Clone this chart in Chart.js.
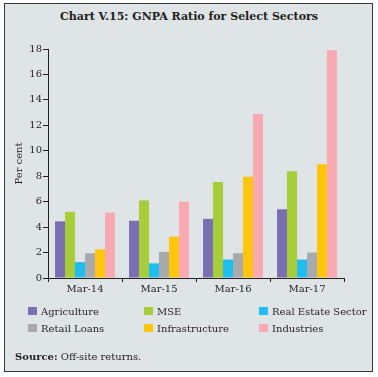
<!DOCTYPE html>
<html><head><meta charset="utf-8">
<script src="https://cdn.jsdelivr.net/npm/chart.js@4.4.1/dist/chart.umd.min.js"></script>
<style>
html,body{margin:0;padding:0;background:#fff;}
#frame{position:absolute;left:4px;top:3px;width:367px;height:367px;border:1px solid #3a3a3a;background:#dfe4e7;}
#wrap{position:absolute;left:0;top:0;width:378px;height:377px;}
.t{position:absolute;font-family:"DejaVu Serif",serif;color:#231f20;white-space:nowrap;}
#title{left:0;width:378px;top:10px;text-align:center;font-weight:bold;font-size:11px;}
.lg{position:absolute;font-family:"DejaVu Serif",serif;font-size:10px;color:#231f20;white-space:nowrap;line-height:12px;}
.lg span{display:inline-block;width:9px;height:8px;margin-right:4px;vertical-align:0px;}
#src{left:15px;top:351px;font-size:10px;}
</style></head>
<body>
<div id="frame"></div>
<div class="t" id="title">Chart V.15: GNPA Ratio for Select Sectors</div>
<div id="wrap"><canvas id="c" width="378" height="377"></canvas></div>
<div id="legend"></div>
<div class="t" id="src"><b>Source:</b> Off-site returns.</div>
<script>
const categories = ["Mar-14","Mar-15","Mar-16","Mar-17"];
const seriesNames = ["Agriculture","MSE","Real Estate Sector","Retail Loans","Infrastructure","Industries"];
const agriculture = [4.45, 4.5, 4.65, 5.4];
const mse = [5.2, 6.1, 7.55, 8.4];
const realEstate = [1.25, 1.15, 1.45, 1.45];
const retailLoans = [1.95, 2.05, 1.95, 2.0];
const infrastructure = [2.25, 3.25, 7.95, 8.95];
const industries = [5.15, 6.0, 12.9, 17.9];
const yTicks = [0,2,4,6,8,10,12,14,16,18];
const colors = ["#7a6fb2","#a7cd39","#1fbef0","#a8aaad","#ffc50d","#f8a9b1"];

const values = [agriculture, mse, realEstate, retailLoans, infrastructure, industries];
const datasets = seriesNames.map((n,i)=>({label:n,data:values[i],backgroundColor:colors[i],borderWidth:0,categoryPercentage:0.81,barPercentage:1.0}));

const tickFont = {family:"DejaVu Serif", size:10};
new Chart(document.getElementById('c'), {
  type:'bar',
  data:{labels:categories, datasets},
  options:{
    responsive:false, animation:false,
    layout:{padding:{left:8,right:34,top:49,bottom:80}},
    plugins:{legend:{display:false},tooltip:{enabled:false}},
    scales:{
      x:{
        grid:{display:true,offset:true,drawOnChartArea:false,drawTicks:true,tickLength:4,color:'#231f20',lineWidth:1},
        border:{display:true,color:'#231f20',width:1},
        ticks:{font:tickFont,color:'#231f20',padding:1},
        afterFit:(s)=>{s.height=19;}
      },
      y:{
        min:0,max:18,
        afterBuildTicks:(s)=>{s.ticks=yTicks.map(v=>({value:v}));},
        grid:{display:true,drawOnChartArea:false,drawTicks:true,tickLength:5,color:'#231f20'},
        border:{display:true,color:'#231f20',width:1},
        ticks:{font:tickFont,color:'#231f20',padding:1},
        title:{display:true,text:'Per cent',font:{family:"DejaVu Serif",size:10},color:'#231f20',padding:{top:5,bottom:0}},
        afterFit:(s)=>{s.width=40;}
      }
    }
  }
});

const pos = [[28,306],[144,306],[259,306],[28,323],[144,323],[259,323]];
const lg = document.getElementById('legend');
seriesNames.forEach((n,i)=>{
  const d=document.createElement('div');d.className='lg';
  d.style.left=pos[i][0]+'px';d.style.top=pos[i][1]+'px';
  const sw=document.createElement('span');sw.style.background=colors[i];
  d.appendChild(sw);d.appendChild(document.createTextNode(n));lg.appendChild(d);
});
</script>
</body></html>
